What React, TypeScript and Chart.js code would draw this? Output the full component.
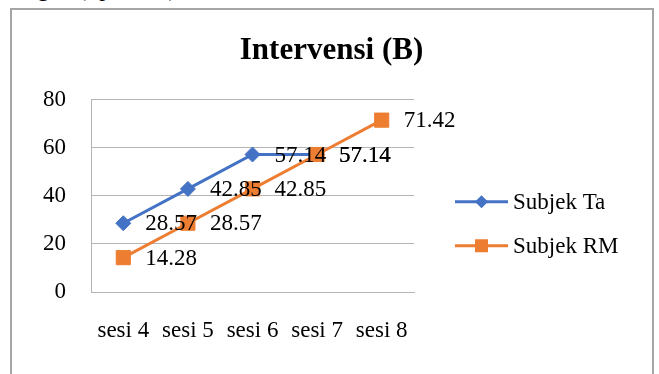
import React, { useEffect, useRef } from "react";
import { Chart, registerables } from "chart.js";

Chart.register(...registerables);

const categories = ["sesi 4", "sesi 5", "sesi 6", "sesi 7", "sesi 8"];
const subjekTa: (number | null)[] = [28.57, 42.85, 57.14, 57.14, null];
const subjekRM: (number | null)[] = [14.28, 28.57, 42.85, 57.14, 71.42];
const yTicks = [0, 20, 40, 60, 80];
const seriesNames = ["Subjek Ta", "Subjek RM"];
const titleText = "Intervensi (B)";
const topCutText = "tengah (Spiritual).";

const BLUE = "#4472C4";
const ORANGE = "#ED7D31";
const GRID = "#B4B4B4";
const FONT = "'Liberation Serif', 'Times New Roman', serif";

const dataLabels = {
  id: "dataLabels",
  afterDatasetsDraw(chart: any) {
    const ctx = chart.ctx;
    ctx.save();
    ctx.font = `23px ${FONT}`;
    ctx.fillStyle = "#000";
    ctx.textAlign = "left";
    ctx.textBaseline = "middle";
    chart.data.datasets.forEach((ds: any, i: number) => {
      const meta = chart.getDatasetMeta(i);
      meta.data.forEach((pt: any, j: number) => {
        const v = ds.data[j];
        if (v == null) return;
        ctx.fillText(Number(v).toFixed(2), pt.x + 22, pt.y + 1);
      });
    });
    ctx.restore();
  },
};

const frameTitle = {
  id: "frameTitle",
  afterDraw(chart: any) {
    const ctx = chart.ctx;
    ctx.save();
    ctx.font = `bold 31px ${FONT}`;
    ctx.fillStyle = "#000";
    ctx.textAlign = "center";
    ctx.textBaseline = "middle";
    ctx.fillText(titleText, chart.width / 2 + 2, chart.chartArea.top - 49);
    ctx.restore();
  },
};

const sideLegend = {
  id: "sideLegend",
  afterDraw(chart: any) {
    const ctx = chart.ctx;
    const area = chart.chartArea;
    const x0 = area.right + 41;
    const len = 53;
    const cy = (area.top + area.bottom) / 2 + 28;
    const gap = 44;
    ctx.save();
    chart.data.datasets.forEach((ds: any, i: number) => {
      const y = cy + (i - 0.5) * gap;
      ctx.strokeStyle = ds.borderColor;
      ctx.lineWidth = 3;
      ctx.beginPath();
      ctx.moveTo(x0, y);
      ctx.lineTo(x0 + len, y);
      ctx.stroke();
      const mx = x0 + len / 2;
      ctx.fillStyle = ds.borderColor;
      ctx.beginPath();
      if (ds.pointStyle === "rectRot") {
        const r = 6.5;
        ctx.moveTo(mx, y - r);
        ctx.lineTo(mx + r, y);
        ctx.lineTo(mx, y + r);
        ctx.lineTo(mx - r, y);
        ctx.closePath();
      } else {
        const h = 6.5;
        ctx.rect(mx - h, y - h, 2 * h, 2 * h);
      }
      ctx.fill();
      ctx.fillStyle = "#000";
      ctx.font = `23px ${FONT}`;
      ctx.textAlign = "left";
      ctx.textBaseline = "middle";
      ctx.fillText(ds.label, x0 + len + 5, y + 1);
    });
    ctx.restore();
  },
};

export default function App() {
  const ref = useRef<HTMLCanvasElement | null>(null);

  useEffect(() => {
    if (!ref.current) return;
    const chart = new Chart(ref.current, {
      type: "line",
      data: {
        labels: categories,
        datasets: [
          {
            label: seriesNames[0],
            data: subjekTa,
            borderColor: BLUE,
            backgroundColor: BLUE,
            borderWidth: 3,
            pointStyle: "rectRot",
            pointRadius: 7.5,
            pointBorderWidth: 1,
            pointBorderColor: BLUE,
            pointBackgroundColor: BLUE,
            tension: 0,
            spanGaps: false,
            order: 1,
          },
          {
            label: seriesNames[1],
            data: subjekRM,
            borderColor: ORANGE,
            backgroundColor: ORANGE,
            borderWidth: 3,
            pointStyle: "rect",
            pointRadius: 10,
            pointBorderWidth: 1,
            pointBorderColor: ORANGE,
            pointBackgroundColor: ORANGE,
            tension: 0,
            order: 0,
          },
        ],
      },
      options: {
        responsive: false,
        animation: false,
        layout: { padding: { left: 0, right: 245, top: 99.5, bottom: 0 } },
        plugins: {
          legend: { display: false },
          tooltip: { enabled: false },
          title: { display: false },
        },
        scales: {
          x: {
            type: "category",
            offset: true,
            grid: { display: false, drawTicks: false },
            border: { display: true, color: GRID, width: 1 },
            ticks: {
              color: "#000",
              font: { family: FONT, size: 23 },
              padding: 25,
              maxRotation: 0,
              autoSkip: false,
            },
            afterFit: (s: any) => {
              s.height = 82;
            },
          },
          y: {
            min: 0,
            max: 80,
            grid: { color: GRID, lineWidth: 1, drawTicks: false },
            border: { display: true, color: GRID, width: 1 },
            ticks: {
              color: "#000",
              font: { family: FONT, size: 23 },
              padding: 25,
            },
            afterBuildTicks: (s: any) => {
              s.ticks = yTicks.map((v) => ({ value: v }));
            },
            afterFit: (s: any) => {
              s.width = 91;
            },
          },
        },
      },
      plugins: [dataLabels, sideLegend, frameTitle],
    });
    return () => chart.destroy();
  }, []);

  return (
    <div
      style={{
        position: "fixed",
        left: 0,
        top: 0,
        width: 659,
        height: 374,
        overflow: "hidden",
        background: "#fff",
      }}
    >
      <div
        style={{
          position: "absolute",
          left: 8,
          top: -24,
          fontFamily: FONT,
          fontSize: 24,
          lineHeight: "24px",
          color: "#000",
          whiteSpace: "nowrap",
        }}
      >
        {topCutText}
      </div>
      <div
        style={{
          position: "absolute",
          left: 10,
          top: 8,
          width: 640,
          height: 420,
          border: "2px solid #A5A5A5",
          background: "#fff",
        }}
      />
      <canvas
        ref={ref}
        width={659}
        height={374}
        style={{ position: "absolute", left: 0, top: 0, width: 659, height: 374 }}
      />
    </div>
  );
}
